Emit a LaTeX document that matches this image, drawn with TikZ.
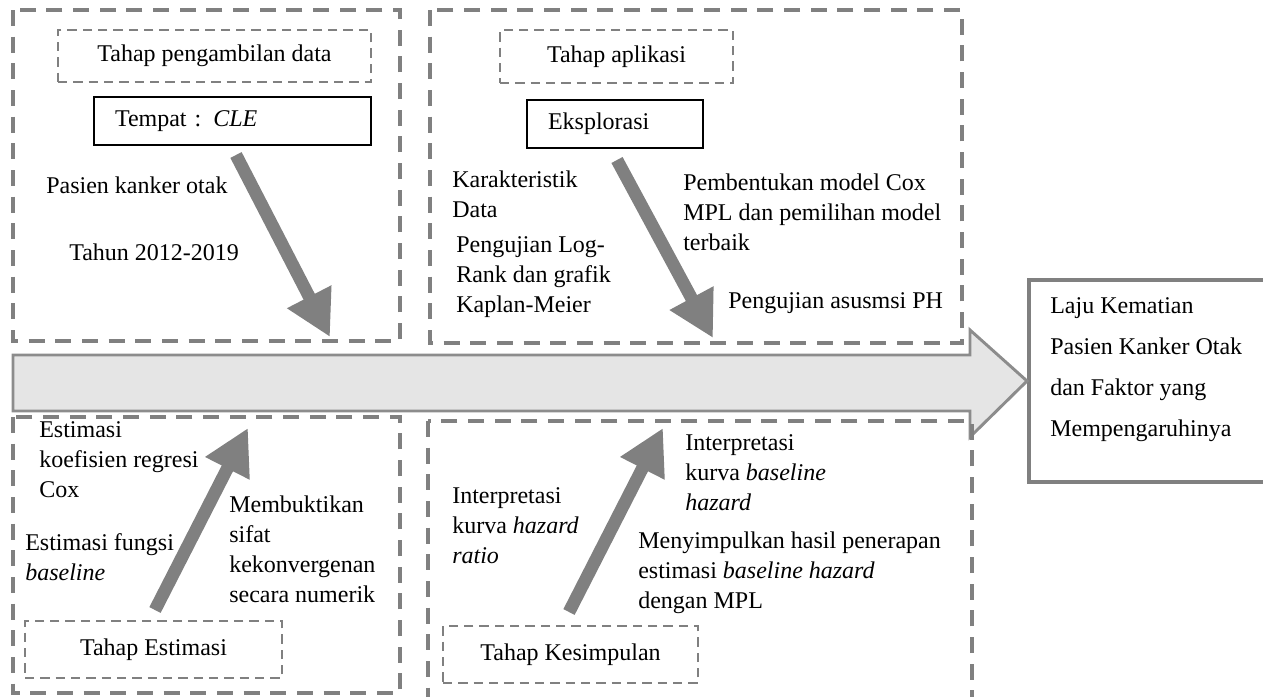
\documentclass[tikz,border=0pt]{standalone}
\usepackage{fontspec}
\setmainfont{Liberation Serif}
\usepackage{tikz}
\usetikzlibrary{arrows.meta}

\begin{document}
\begin{tikzpicture}[x=0.75pt, y=-0.75pt,
  font=\fontsize{18}{22.5}\selectfont,
  frame/.style={draw=gray, line width=2.7pt, dash pattern=on 12pt off 8pt},
  stage/.style={draw=gray, line width=1.4pt, dash pattern=on 7pt off 4.5pt, inner sep=0pt},
  place/.style={draw=black, line width=0.8pt, align=left, inner ysep=0pt, inner xsep=15.75pt, minimum height=36pt},
  txt/.style={anchor=base west, inner sep=0pt, align=left},
  fat/.style={draw=gray, line width=9.5pt, -{Triangle[length=34pt, width=35pt]}}
]
\useasboundingbox (0,0) rectangle (1263,696);
\node[draw=gray, line width=3pt, minimum width=189.75pt, minimum height=151.5pt, anchor=north west] (res) at (1027,278) {};
\node[txt, font=\fontsize{18}{30.75}\selectfont] (restxt) at (1050,436) {Laju Kematian\\Pasien Kanker Otak\\dan Faktor yang\\Mempengaruhinya};
\filldraw[draw=gray!90, fill=gray!20, line width=2.2pt] (13,355) -- (970,355) -- (970,330) -- (res.west) -- (970,437) -- (970,411) -- (13,411) -- cycle;
\foreach \xa/\ya/\xb/\yb in {13/10/400/341, 430/10/962/343, 13/417/400/693, 428/421/972/705}
  \draw[frame] (\xa,\ya) rectangle (\xb,\yb);

\node[stage, minimum width=234.75pt, minimum height=39pt] (s1) at (214.5,56) {Tahap pengambilan data};
\node[place, text width=176.25pt] (tmp) at (232.5,121) {\raisebox{-3pt}{Tempat : \textit{CLE}}};
\node[txt] (p1) at (46,193) {Pasien kanker otak};
\node[txt] (p2) at (69,260) {Tahun 2012-2019};

\node[stage, minimum width=174.75pt, minimum height=39.75pt] (s2) at (616.5,56.5) {Tahap aplikasi};
\node[place, text width=100.5pt] (eks) at (615,124) {Eksplorasi};
\node[txt] (k1) at (452,217) {Karakteristik\\Data};
\node[txt] (k2) at (456,312) {Pengujian Log-\\Rank dan grafik\\Kaplan-Meier};
\node[txt] (k3) at (683,250) {Pembentukan model Cox\\MPL dan pemilihan model\\terbaik};
\node[txt] (k4) at (728,308) {Pengujian asusmsi PH};

\node[stage, minimum width=192.75pt, minimum height=42.75pt] (s3) at (153.5,649.5) {Tahap Estimasi};
\node[txt] (e1) at (39,497) {Estimasi\\koefisien regresi\\Cox};
\node[txt] (e2) at (25,580) {Estimasi fungsi\\\textit{baseline}};
\node[txt] (e3) at (229,602) {Membuktikan\\sifat\\kekonvergenan\\secara numerik};

\node[stage, minimum width=191.25pt, minimum height=42.75pt] (s4) at (570.5,654.5) {Tahap Kesimpulan};
\node[txt] (c1) at (452,563) {Interpretasi\\kurva \textit{hazard}\\\textit{ratio}};
\node[txt] (c2) at (685,510) {Interpretasi\\kurva \textit{baseline}\\\textit{hazard}};
\node[txt] (c3) at (638,608) {Menyimpulkan hasil penerapan\\estimasi \textit{baseline hazard}\\dengan MPL};

\coordinate (a1) at (236,155); \coordinate (b1) at (330,337);
\coordinate (a2) at (617,160); \coordinate (b2) at (713,338);
\coordinate (a3) at (155,610); \coordinate (b3) at (248,428);
\coordinate (a4) at (569,612); \coordinate (b4) at (663,428);
\draw[fat] (a1) -- (b1);
\draw[fat] (a2) -- (b2);
\draw[fat] (a3) -- (b3);
\draw[fat] (a4) -- (b4);
\end{tikzpicture}
\end{document}
